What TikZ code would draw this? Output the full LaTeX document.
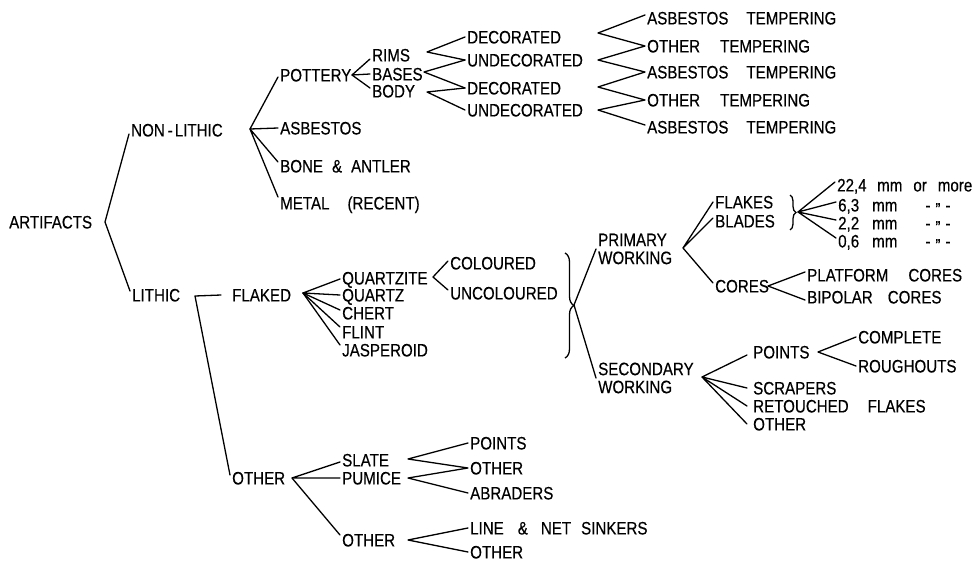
\documentclass[tikz,border=0pt]{standalone}
\usepackage{fontspec}
\setmainfont[FakeStretch=0.84,FakeBold=0.4]{Liberation Sans}
\usetikzlibrary{calc,decorations.pathreplacing}
\begin{document}
\begin{tikzpicture}[x=1pt,y=-1pt,
  lbl/.style={anchor=west,inner xsep=2pt,inner ysep=0pt,text height=12.9pt,text depth=0pt,font=\fontsize{18}{18}\selectfont},
  lbltwo/.style={anchor=west,inner xsep=2pt,inner ysep=0pt,align=left,font=\fontsize{18}{18}\selectfont},
  conn/.style={line width=1.3pt,line cap=round,line join=round},
  curly/.style={line width=1.3pt,decorate,decoration={brace,amplitude=#1}}
]
\useasboundingbox (0,0) rectangle (980,562);

% ---------- nodes ----------
\node[lbl] (art) at (7,222) {ARTIFACTS};
\node[lbl] (nl) at (129,130) {NON\hspace{3pt}-\hspace{2pt}LITHIC};
\node[lbl] (lit) at (130,295) {LITHIC};

\node[lbl] (pot) at (278,75) {POTTERY};
\node[lbl] (asb) at (278,128) {ASBESTOS};
\node[lbl] (bone) at (278,166) {BONE\hspace{9pt}\&\hspace{9pt}ANTLER};
\node[lbl] (metal) at (278,203) {METAL\hspace{18pt}(RECENT)};

\node[lbl] (rims) at (370,55) {RIMS};
\node[lbl] (bases) at (370,74) {BASES};
\node[lbl] (body) at (370,91) {BODY};

\node[lbl] (dec1) at (465,37) {DECORATED};
\node[lbl] (und1) at (465,60) {UNDECORATED};
\node[lbl] (dec2) at (465,88) {DECORATED};
\node[lbl] (und2) at (465,110) {UNDECORATED};

\node[lbl] (t1) at (645,18) {ASBESTOS\hspace{18pt}TEMPERING};
\node[lbl] (t2) at (645,46) {OTHER\hspace{20pt}TEMPERING};
\node[lbl] (t3) at (645,72) {ASBESTOS\hspace{18pt}TEMPERING};
\node[lbl] (t4) at (645,100) {OTHER\hspace{20pt}TEMPERING};
\node[lbl] (t5) at (645,127) {ASBESTOS\hspace{18pt}TEMPERING};

\node[lbl] (fl) at (230,295) {FLAKED};
\node[lbl] (oth) at (230,478) {OTHER};

\node[lbl] (qzt) at (340,278) {QUARTZITE};
\node[lbl] (qz) at (340,295) {QUARTZ};
\node[lbl] (ch) at (340,313) {CHERT};
\node[lbl] (fli) at (340,332) {FLINT};
\node[lbl] (jas) at (340,350) {JASPEROID};

\node[lbl] (col) at (448,263) {COLOURED};
\node[lbl] (uncol) at (448,293) {UNCOLOURED};

\node[lbltwo] (pw) at (596,249) {PRIMARY\\WORKING};
\node[lbltwo] (sw) at (596,378) {SECONDARY\\WORKING};

\node[lbl] (flk) at (713,202) {FLAKES};
\node[lbl] (bla) at (713,221) {BLADES};
\node[lbl] (s1) at (835,185) {\makebox[40pt][l]{22,4}mm\hspace{11pt}or\hspace{11pt}more};
\node[lbl] (s2) at (836,205) {\makebox[34pt][l]{6,3}mm\hspace{28pt}-\hspace{5pt}\raisebox{-4pt}{''}\hspace{5pt}-};
\node[lbl] (s3) at (836,223) {\makebox[34pt][l]{2,2}mm\hspace{28pt}-\hspace{5pt}\raisebox{-4pt}{''}\hspace{5pt}-};
\node[lbl] (s4) at (836,241) {\makebox[34pt][l]{0,6}mm\hspace{28pt}-\hspace{5pt}\raisebox{-4pt}{''}\hspace{5pt}-};

\node[lbl] (cores) at (713,286) {CORES};
\node[lbl] (plat) at (805,275) {PLATFORM\hspace{20pt}CORES};
\node[lbl] (bip) at (805,297) {BIPOLAR\hspace{15pt}CORES};

\node[lbl] (pts) at (751,352) {POINTS};
\node[lbl] (scr) at (751,388) {SCRAPERS};
\node[lbl] (ret) at (751,406) {RETOUCHED\hspace{19pt}FLAKES};
\node[lbl] (oth2) at (751,424) {OTHER};
\node[lbl] (comp) at (856,337) {COMPLETE};
\node[lbl] (rough) at (856,366) {ROUGHOUTS};

\node[lbl] (slate) at (340,460) {SLATE};
\node[lbl] (pum) at (340,478) {PUMICE};
\node[lbl] (oth3) at (340,540) {OTHER};
\node[lbl] (pts2) at (468,443) {POINTS};
\node[lbl] (oth4) at (468,468) {OTHER};
\node[lbl] (abr) at (468,493) {ABRADERS};
\node[lbl] (line) at (468,528) {LINE\hspace{14pt}\&\hspace{13pt}NET\hspace{10pt}SINKERS};
\node[lbl] (oth5) at (468,552) {OTHER};

% ---------- branch points ----------
\coordinate (av) at (105,222);
\coordinate (nv) at (250,129);
\coordinate (pv) at (352,75);
\coordinate (rv) at (427,52);
\coordinate (bv) at (424,72);
\coordinate (dv) at (427,92);
\coordinate (z1) at (598,33);
\coordinate (z2) at (598,60);
\coordinate (z3) at (598,87);
\coordinate (z4) at (598,110);
\coordinate (lv) at (195,296);
\coordinate (fv) at (303,293);
\coordinate (qv) at (433,277);
\coordinate (bt) at (574,305);
\coordinate (pwv) at (683,248);
\coordinate (sv) at (798,212);
\coordinate (cv) at (768,286);
\coordinate (swv) at (702,377);
\coordinate (ptv) at (818,352);
\coordinate (ov) at (292,478);
\coordinate (slv) at (408,459);
\coordinate (pmv) at (408,478);
\coordinate (o3v) at (408,540);

% ---------- connectors ----------
\draw[conn] ([yshift=-4pt]nl.west) -- (av) -- ([yshift=4pt]lit.west);
\draw[conn] ([yshift=-2pt]pot.west) -- (nv) -- (asb.west);
\draw[conn] ([yshift=4pt]bone.west) -- (nv) -- ([yshift=6pt]metal.west);
\draw[conn] ([yshift=-4pt]rims.west) -- (pv) -- (bases.west);
\draw[conn] (pv) -- ([yshift=3pt]body.west);
\draw[conn] (dec1.west) -- (rv) -- (und1.west);
\draw[conn] (und1.west) -- (bv) -- (dec2.west);
\draw[conn] (dec2.west) -- (dv) -- (und2.west);
\draw[conn] ([yshift=3pt]t1.west) -- (z1) -- (t2.west) -- (z2) -- (t3.west) -- (z3) -- (t4.west) -- (z4) -- ([yshift=2pt]t5.west);

\draw[conn] ([xshift=-9pt]fl.west) -- (lv) -- ([yshift=3pt]oth.west);
\draw[conn] ([yshift=-1pt]qzt.west) -- (fv) -- (qz.west);
\draw[conn] (fv) -- ([yshift=3pt]ch.west);
\draw[conn] (fv) -- ([yshift=5pt]fli.west);
\draw[conn] (fv) -- ([yshift=5pt]jas.west);
\draw[conn] ([yshift=2pt]col.west) -- (qv) -- ([yshift=3pt]uncol.west);

\draw[curly=9pt] (565,253) -- (565,358);
\draw[conn] (pw.west) -- (bt) -- (sw.west);

\draw[conn] (flk.west) -- (pwv) -- ([yshift=3pt]bla.west);
\draw[conn] (pwv) -- ([yshift=3pt]cores.west);
\draw[curly=6pt] (790,195) -- (790,230);
\draw[conn] ([yshift=3pt]s1.west) -- (sv) -- ([yshift=3pt]s2.west);
\draw[conn] ([yshift=3pt]s3.west) -- (sv) -- ([yshift=3pt]s4.west);
\draw[conn] ([yshift=3pt]plat.west) -- (cv) -- ([yshift=-3pt]bip.west);

\draw[conn] ([xshift=-4pt,yshift=-3pt]pts.west) -- (swv) -- ([xshift=-4pt]scr.west);
\draw[conn] ([xshift=-4pt]ret.west) -- (swv) -- ([xshift=-4pt]oth2.west);
\draw[conn] (comp.west) -- (ptv) -- (rough.west);

\draw[conn] ([yshift=-2pt]slate.west) -- (ov) -- (pum.west);
\draw[conn] (ov) -- ([yshift=5pt]oth3.west);
\draw[conn] (pts2.west) -- (slv) -- (oth4.west) -- (pmv) -- (abr.west);
\draw[conn] (line.west) -- (o3v) -- (oth5.west);
\end{tikzpicture}
\end{document}
